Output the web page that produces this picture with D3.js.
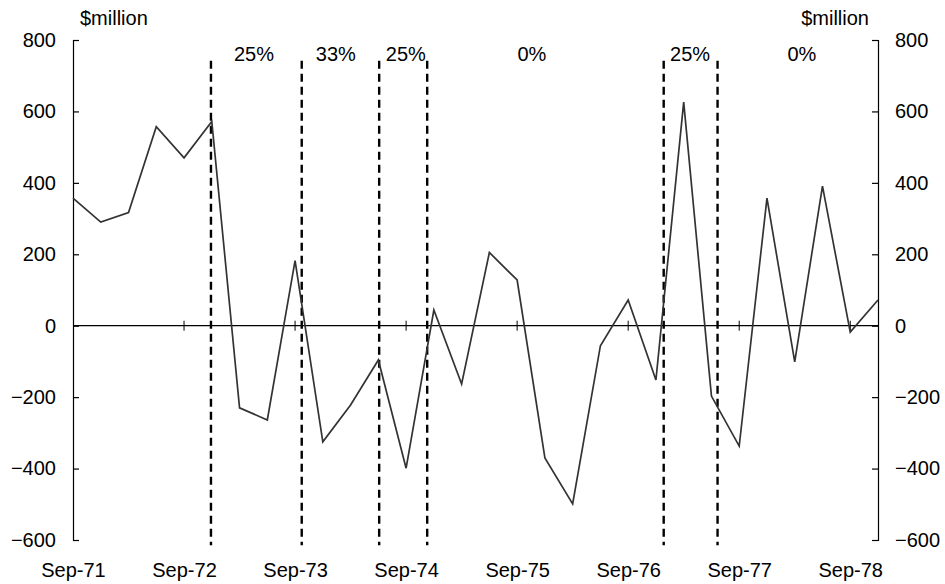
<!DOCTYPE html>
<html>
<head>
<meta charset="utf-8">
<script src="https://cdn.jsdelivr.net/npm/d3@7"></script>
<style>
  body { margin: 0; background: #fff; }
  svg { font-family: "Liberation Sans", Arial, sans-serif; }
</style>
</head>
<body>
<div id="chart"></div>
<script>
// quarterly observations, Sep-71 to Dec-78
const quarters = [
    "Sep-71", "Dec-71", "Mar-72", "Jun-72", "Sep-72", "Dec-72", "Mar-73", "Jun-73",
    "Sep-73", "Dec-73", "Mar-74", "Jun-74", "Sep-74", "Dec-74", "Mar-75", "Jun-75",
    "Sep-75", "Dec-75", "Mar-76", "Jun-76", "Sep-76", "Dec-76", "Mar-77", "Jun-77",
    "Sep-77", "Dec-77", "Mar-78", "Jun-78", "Sep-78", "Dec-78"
];
const values = [
    357, 290, 317, 557, 470, 572, -230, -264,
    182, -325, -222, -96, -399, 44, -163, 205,
    128, -370, -499, -56, 72, -152, 626, -197,
    -337, 357, -101, 391, -18, 72
];
// tariff change dates (position in quarters from Sep-71) and the rate labels between them
const changeAt = [4.97, 8.24, 11.03, 12.76, 21.28, 23.22];
const rateLabels = ["25%", "33%", "25%", "0%", "25%", "0%"];
const rateLabelAt = [6.52, 9.47, 11.99, 16.53, 22.23, 26.26];
const yTicks = [-600, -400, -200, 0, 200, 400, 600, 800];

const width = 945, height = 584;
const margin = { top: 40, right: 67, bottom: 44, left: 73 };
const fontSize = 20;

const svg = d3.select("#chart")
    .append("svg")
    .attr("width", width)
    .attr("height", height);

const x = d3.scaleLinear()
    .domain([0, quarters.length - 1])
    .range([margin.left, width - margin.right]);

const y = d3.scaleLinear()
    .domain([-600, 800])
    .range([height - margin.bottom, margin.top]);

const yearIdx = quarters.map((q, i) => i).filter(i => quarters[i].startsWith("Sep"));

// left and right value axes, ticks pointing inwards
const leftAxis = svg.append("g")
    .attr("transform", `translate(${margin.left},0)`)
    .call(d3.axisLeft(y).tickValues(yTicks).tickSizeInner(-6).tickSizeOuter(-6).tickPadding(17).tickFormat(d3.format("d")));

const rightAxis = svg.append("g")
    .attr("transform", `translate(${width - margin.right},0)`)
    .call(d3.axisRight(y).tickValues(yTicks).tickSizeInner(-6).tickSizeOuter(-6).tickPadding(17).tickFormat(d3.format("d")));

[leftAxis, rightAxis].forEach(g => {
    g.selectAll("path, line").attr("stroke", "#000").attr("stroke-width", 1.2);
    g.selectAll("text").attr("font-size", fontSize).attr("fill", "#000")
        .attr("font-family", "Liberation Sans, Arial, sans-serif");
});

// bottom date labels
const xAxis = svg.append("g")
    .attr("transform", `translate(0,${height - margin.bottom})`)
    .call(d3.axisBottom(x).tickValues(yearIdx).tickSize(0).tickPadding(23).tickFormat(i => quarters[i]));
xAxis.select(".domain").remove();
xAxis.selectAll("text").attr("font-size", fontSize).attr("fill", "#000")
    .attr("font-family", "Liberation Sans, Arial, sans-serif");

// zero line with year ticks crossing it
svg.append("line")
    .attr("x1", x(0)).attr("x2", x(quarters.length - 1))
    .attr("y1", y(0)).attr("y2", y(0))
    .attr("stroke", "#000").attr("stroke-width", 1.2);

svg.selectAll(".zero-tick")
    .data(yearIdx.slice(1))
    .enter()
    .append("line")
    .attr("class", "zero-tick")
    .attr("x1", d => x(d)).attr("x2", d => x(d))
    .attr("y1", y(0) - 5).attr("y2", y(0) + 5)
    .attr("stroke", "#000").attr("stroke-width", 1);

// dashed tariff-change lines
svg.selectAll(".change")
    .data(changeAt)
    .enter()
    .append("line")
    .attr("class", "change")
    .attr("x1", d => x(d)).attr("x2", d => x(d))
    .attr("y1", y(742)).attr("y2", y(-615))
    .attr("stroke", "#000")
    .attr("stroke-width", 2.4)
    .attr("stroke-dasharray", "8,5");

svg.selectAll(".rate")
    .data(rateLabels)
    .enter()
    .append("text")
    .attr("class", "rate")
    .attr("x", (d, i) => x(rateLabelAt[i]))
    .attr("y", 61)
    .attr("text-anchor", "middle")
    .attr("font-size", fontSize)
    .text(d => d);

// the series
const line = d3.line()
    .x((d, i) => x(i))
    .y(d => y(d));

svg.append("path")
    .datum(values)
    .attr("d", line)
    .attr("fill", "none")
    .attr("stroke", "#333")
    .attr("stroke-width", 1.7);

// unit labels
svg.append("text")
    .attr("x", 80).attr("y", 25)
    .attr("font-size", fontSize)
    .text("$million");

svg.append("text")
    .attr("x", 869).attr("y", 25)
    .attr("text-anchor", "end")
    .attr("font-size", fontSize)
    .text("$million");
</script>
</body>
</html>
